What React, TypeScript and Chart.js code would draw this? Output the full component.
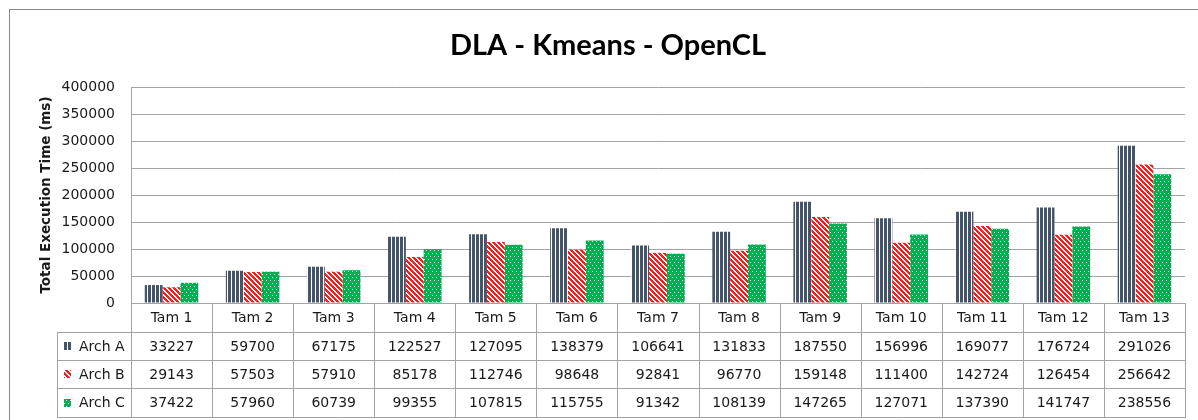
import React, { useEffect, useRef } from 'react';
import { Chart, registerables } from 'chart.js';

Chart.register(...registerables);

const categories = ['Tam 1', 'Tam 2', 'Tam 3', 'Tam 4', 'Tam 5', 'Tam 6', 'Tam 7', 'Tam 8', 'Tam 9', 'Tam 10', 'Tam 11', 'Tam 12', 'Tam 13'];
const seriesNames = ['Arch A', 'Arch B', 'Arch C'];
const archA = [33227, 59700, 67175, 122527, 127095, 138379, 106641, 131833, 187550, 156996, 169077, 176724, 291026];
const archB = [29143, 57503, 57910, 85178, 112746, 98648, 92841, 96770, 159148, 111400, 142724, 126454, 256642];
const archC = [37422, 57960, 60739, 99355, 107815, 115755, 91342, 108139, 147265, 127071, 137390, 141747, 238556];
const yMax = 400000;
const yStep = 50000;
const chartTitle = 'DLA - Kmeans - OpenCL';
const yAxisTitle = 'Total Execution Time (ms)';

const W = 1198;
const H = 420;
const FONT = '"DejaVu Sans", sans-serif';
const TEXT = '#1a1a1a';
const LINE = '#a3a3a3';

function makePattern(kind: number): CanvasPattern | string {
  const c = document.createElement('canvas');
  const x = c.getContext('2d');
  if (!x) return '#888';
  if (kind === 0) {
    c.width = 4; c.height = 4;
    x.fillStyle = '#ffffff'; x.fillRect(0, 0, 4, 4);
    x.fillStyle = '#44546a'; x.fillRect(0, 0, 3, 4);
  } else if (kind === 1) {
    c.width = 5; c.height = 5;
    x.fillStyle = '#ffffff'; x.fillRect(0, 0, 5, 5);
    x.fillStyle = '#ff1a1a';
    for (let i = 0; i < 5; i++) for (let j = 0; j < 5; j++) {
      if (((i - j) % 5 + 5) % 5 < 3) x.fillRect(i, j, 1, 1);
    }
  } else {
    c.width = 4; c.height = 6;
    x.fillStyle = '#00b050'; x.fillRect(0, 0, 4, 6);
    x.fillStyle = '#ffffff';
    x.fillRect(0, 1, 1, 1);
    x.fillRect(2, 4, 1, 1);
  }
  const p = x.createPattern(c, 'repeat');
  return p || '#888';
}

const tablePlugin = {
  id: 'dataTable',
  afterDraw(chart: any) {
    const ctx = chart.ctx as CanvasRenderingContext2D;
    const area = chart.chartArea;
    const xs = chart.scales.x;
    const n = categories.length;
    const colW = (area.right - area.left) / n;
    const tableLeft = 57;
    const rows = [area.bottom, 332, 360, 388, 417];
    ctx.save();
    // outer border
    ctx.strokeStyle = '#8a8a8a';
    ctx.lineWidth = 1;
    ctx.strokeRect(9.5, 9.5, W + 20, H + 20);

    // title
    ctx.fillStyle = '#000';
    ctx.font = 'bold 29px Lato, "DejaVu Sans", sans-serif';
    ctx.textAlign = 'center';
    ctx.textBaseline = 'middle';
    ctx.fillText(chartTitle, 608, 46);

    // y axis title
    ctx.save();
    ctx.translate(46, (area.top + area.bottom) / 2);
    ctx.rotate(-Math.PI / 2);
    ctx.font = 'bold 13.5px ' + FONT;
    ctx.fillStyle = TEXT;
    ctx.textAlign = 'center';
    ctx.textBaseline = 'middle';
    ctx.fillText(yAxisTitle, 0, 0);
    ctx.restore();

    // table lines
    ctx.strokeStyle = LINE;
    ctx.lineWidth = 1;
    ctx.beginPath();
    const yb = Math.round(rows[0]) + 0.5;
    ctx.moveTo(Math.round(area.left), yb);
    ctx.lineTo(Math.round(area.right) + 1, yb);
    for (let r = 1; r < rows.length; r++) {
      ctx.moveTo(tableLeft, rows[r] + 0.5);
      ctx.lineTo(Math.round(area.right) + 1, rows[r] + 0.5);
    }
    for (let i = 0; i <= n; i++) {
      const xx = Math.round(area.left + i * colW) + 0.5;
      ctx.moveTo(xx, rows[0]);
      ctx.lineTo(xx, rows[4] + 1);
    }
    ctx.moveTo(tableLeft + 0.5, rows[1]);
    ctx.lineTo(tableLeft + 0.5, rows[4] + 1);
    ctx.stroke();

    // text
    ctx.font = '14px ' + FONT;
    ctx.fillStyle = TEXT;
    ctx.textBaseline = 'middle';
    ctx.textAlign = 'center';
    const series = [archA, archB, archC];
    for (let i = 0; i < n; i++) {
      const cx = xs.getPixelForValue(i);
      ctx.fillText(categories[i], cx, (rows[0] + rows[1]) / 2 + 1);
      for (let s = 0; s < 3; s++) {
        ctx.fillText(String(series[s][i]), cx, (rows[s + 1] + rows[s + 2]) / 2 + 1);
      }
    }
    ctx.textAlign = 'left';
    for (let s = 0; s < 3; s++) {
      const cy = (rows[s + 1] + rows[s + 2]) / 2;
      ctx.fillStyle = chart.data.datasets[s].backgroundColor;
      ctx.fillRect(64, Math.round(cy) - 4, 7, 8);
      ctx.fillStyle = TEXT;
      ctx.fillText(seriesNames[s], 79, cy + 1);
    }
    ctx.restore();
  },
};

export default function App() {
  const ref = useRef<HTMLCanvasElement | null>(null);
  useEffect(() => {
    if (!ref.current) return;
    const patterns = [makePattern(0), makePattern(1), makePattern(2)];
    const series = [archA, archB, archC];
    const chart = new Chart(ref.current, {
      type: 'bar',
      data: {
        labels: categories,
        datasets: series.map((d, i) => ({
          label: seriesNames[i],
          data: d,
          backgroundColor: patterns[i] as any,
          borderWidth: 0,
          categoryPercentage: 0.66,
          barPercentage: 1,
        })),
      },
      options: {
        responsive: false,
        animation: false,
        devicePixelRatio: 1,
        layout: { padding: { top: 87, left: 0, right: 13, bottom: 117 } },
        plugins: {
          legend: { display: false },
          title: { display: false },
          tooltip: { enabled: false },
        },
        scales: {
          x: { display: false, offset: true },
          y: {
            min: 0,
            max: yMax,
            afterFit: (s: any) => { s.width = 131; },
            ticks: {
              stepSize: yStep,
              padding: 16,
              color: TEXT,
              font: { family: FONT, size: 14 },
              callback: (v: any) => String(v),
            },
            grid: { color: LINE, drawTicks: false },
            border: { display: true, color: LINE },
          },
        },
      },
      plugins: [tablePlugin],
    });
    return () => chart.destroy();
  }, []);
  return (
    <div style={{ position: 'fixed', left: 0, top: 0, width: W, height: H, background: '#fff' }}>
      <canvas ref={ref} width={W} height={H} style={{ display: 'block', width: W, height: H }} />
    </div>
  );
}
